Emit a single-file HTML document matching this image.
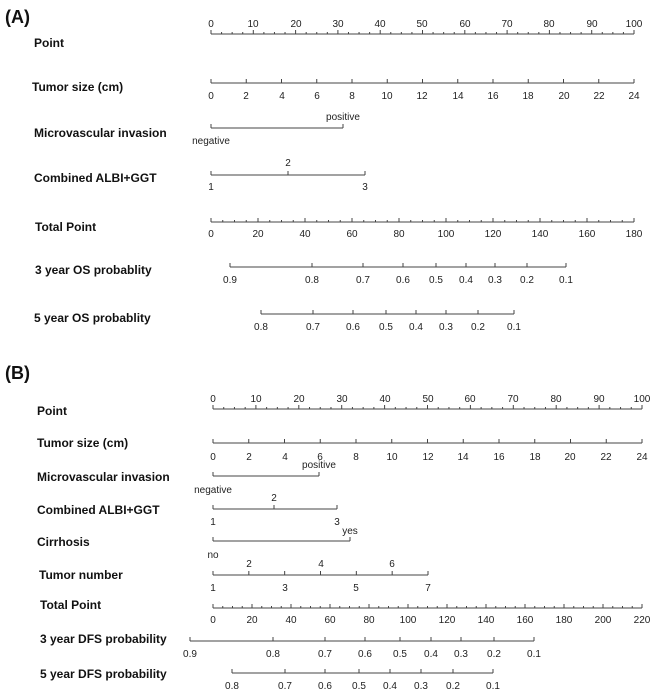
<!DOCTYPE html>
<html><head><meta charset="utf-8"><style>
html,body{margin:0;padding:0;background:#fff;width:652px;height:694px;overflow:hidden}
svg{display:block}
.t{font-family:"Liberation Sans",sans-serif;font-size:10px;fill:#222;text-anchor:middle}
.l{font-family:"Liberation Sans",sans-serif;font-size:12px;font-weight:bold;fill:#111}
.h{font-family:"Liberation Sans",sans-serif;font-size:18px;font-weight:bold;fill:#111}
</style></head><body>
<svg id="s" width="652" height="694" xmlns="http://www.w3.org/2000/svg">
<g id="lines" stroke="#444" stroke-width="1" fill="none"></g>
<text class="h" x="5" y="23">(A)</text>
<text class="l" x="34" y="47">Point</text>
<text class="l" x="32" y="91">Tumor size (cm)</text>
<text class="l" x="34" y="137">Microvascular invasion</text>
<text class="l" x="34" y="182">Combined ALBI+GGT</text>
<text class="l" x="35" y="231">Total Point</text>
<text class="l" x="35" y="274">3 year OS probablity</text>
<text class="l" x="34" y="322">5 year OS probablity</text>
<g class="t">
<text x="211" y="27">0</text><text x="253" y="27">10</text><text x="296" y="27">20</text><text x="338" y="27">30</text><text x="380" y="27">40</text><text x="422" y="27">50</text><text x="465" y="27">60</text><text x="507" y="27">70</text><text x="549" y="27">80</text><text x="592" y="27">90</text><text x="634" y="27">100</text>
<text x="211" y="99">0</text><text x="246" y="99">2</text><text x="282" y="99">4</text><text x="317" y="99">6</text><text x="352" y="99">8</text><text x="387" y="99">10</text><text x="422" y="99">12</text><text x="458" y="99">14</text><text x="493" y="99">16</text><text x="528" y="99">18</text><text x="564" y="99">20</text><text x="599" y="99">22</text><text x="634" y="99">24</text>
<text x="343" y="120">positive</text><text x="211" y="144">negative</text>
<text x="288" y="166">2</text><text x="211" y="190">1</text><text x="365" y="190">3</text>
<text x="211" y="237">0</text><text x="258" y="237">20</text><text x="305" y="237">40</text><text x="352" y="237">60</text><text x="399" y="237">80</text><text x="446" y="237">100</text><text x="493" y="237">120</text><text x="540" y="237">140</text><text x="587" y="237">160</text><text x="634" y="237">180</text>
<text x="230" y="283">0.9</text><text x="312" y="283">0.8</text><text x="363" y="283">0.7</text><text x="403" y="283">0.6</text><text x="436" y="283">0.5</text><text x="466" y="283">0.4</text><text x="495" y="283">0.3</text><text x="527" y="283">0.2</text><text x="566" y="283">0.1</text>
<text x="261" y="330">0.8</text><text x="313" y="330">0.7</text><text x="353" y="330">0.6</text><text x="386" y="330">0.5</text><text x="416" y="330">0.4</text><text x="446" y="330">0.3</text><text x="478" y="330">0.2</text><text x="514" y="330">0.1</text>
</g>
<text class="h" x="5" y="379">(B)</text>
<text class="l" x="37" y="415">Point</text>
<text class="l" x="37" y="447">Tumor size (cm)</text>
<text class="l" x="37" y="481">Microvascular invasion</text>
<text class="l" x="37" y="514">Combined ALBI+GGT</text>
<text class="l" x="37" y="546">Cirrhosis</text>
<text class="l" x="39" y="579">Tumor number</text>
<text class="l" x="40" y="609">Total Point</text>
<text class="l" x="40" y="643">3 year DFS probability</text>
<text class="l" x="40" y="678">5 year DFS probability</text>
<g class="t">
<text x="213" y="402">0</text><text x="256" y="402">10</text><text x="299" y="402">20</text><text x="342" y="402">30</text><text x="385" y="402">40</text><text x="428" y="402">50</text><text x="470" y="402">60</text><text x="513" y="402">70</text><text x="556" y="402">80</text><text x="599" y="402">90</text><text x="642" y="402">100</text>
<text x="213" y="460">0</text><text x="249" y="460">2</text><text x="285" y="460">4</text><text x="320" y="460">6</text><text x="356" y="460">8</text><text x="392" y="460">10</text><text x="428" y="460">12</text><text x="463" y="460">14</text><text x="499" y="460">16</text><text x="535" y="460">18</text><text x="570" y="460">20</text><text x="606" y="460">22</text><text x="642" y="460">24</text>
<text x="319" y="468">positive</text><text x="213" y="493">negative</text>
<text x="274" y="501">2</text><text x="213" y="525">1</text><text x="337" y="525">3</text>
<text x="350" y="534">yes</text><text x="213" y="558">no</text>
<text x="249" y="567">2</text><text x="321" y="567">4</text><text x="392" y="567">6</text><text x="213" y="591">1</text><text x="285" y="591">3</text><text x="356" y="591">5</text><text x="428" y="591">7</text>
<text x="213" y="623">0</text><text x="252" y="623">20</text><text x="291" y="623">40</text><text x="330" y="623">60</text><text x="369" y="623">80</text><text x="408" y="623">100</text><text x="447" y="623">120</text><text x="486" y="623">140</text><text x="525" y="623">160</text><text x="564" y="623">180</text><text x="603" y="623">200</text><text x="642" y="623">220</text>
<text x="190" y="657">0.9</text><text x="273" y="657">0.8</text><text x="325" y="657">0.7</text><text x="365" y="657">0.6</text><text x="400" y="657">0.5</text><text x="431" y="657">0.4</text><text x="461" y="657">0.3</text><text x="494" y="657">0.2</text><text x="534" y="657">0.1</text>
<text x="232" y="689">0.8</text><text x="285" y="689">0.7</text><text x="325" y="689">0.6</text><text x="359" y="689">0.5</text><text x="390" y="689">0.4</text><text x="421" y="689">0.3</text><text x="453" y="689">0.2</text><text x="493" y="689">0.1</text>
</g>
</svg>
<script>
var g=document.getElementById('lines'),d='';
function ax(y,xs,minor){d+='M'+xs[0]+' '+y+'H'+xs[xs.length-1];xs.forEach(function(x){d+='M'+x+' '+y+'v-4';});(minor||[]).forEach(function(x){d+='M'+x+' '+y+'v-2';});}
function lin(a,b,n){var r=[];for(var i=0;i<=n;i++)r.push(a+(b-a)*i/n);return r;}
function mn(a,b,n,k){var r=[];for(var i=0;i<=n;i++)if(i%k)r.push(a+(b-a)*i/n);return r;}
ax(34,lin(211,634,10),mn(211,634,40,4));
ax(83,lin(211,634,12));
ax(128,[211,343]);
ax(175,[211,288,365]);
ax(222,lin(211,634,9),mn(211,634,36,4));
ax(267,[230,312,363,403,436,466,495,527,566]);
ax(314,[261,313,353,386,416,446,478,514]);
ax(409,lin(213,642,10),mn(213,642,40,4));
ax(443,lin(213,642,12));
ax(476,[213,319]);
ax(509,[213,274,337]);
ax(541,[213,350]);
ax(575,lin(213,428,6));
ax(608,lin(213,642,11),mn(213,642,44,4));
ax(641,[190,273,325,365,400,431,461,494,534]);
ax(673,[232,285,325,359,390,421,453,493]);
var p=document.createElementNS('http://www.w3.org/2000/svg','path');p.setAttribute('d',d);g.appendChild(p);
</script>
</body></html>
